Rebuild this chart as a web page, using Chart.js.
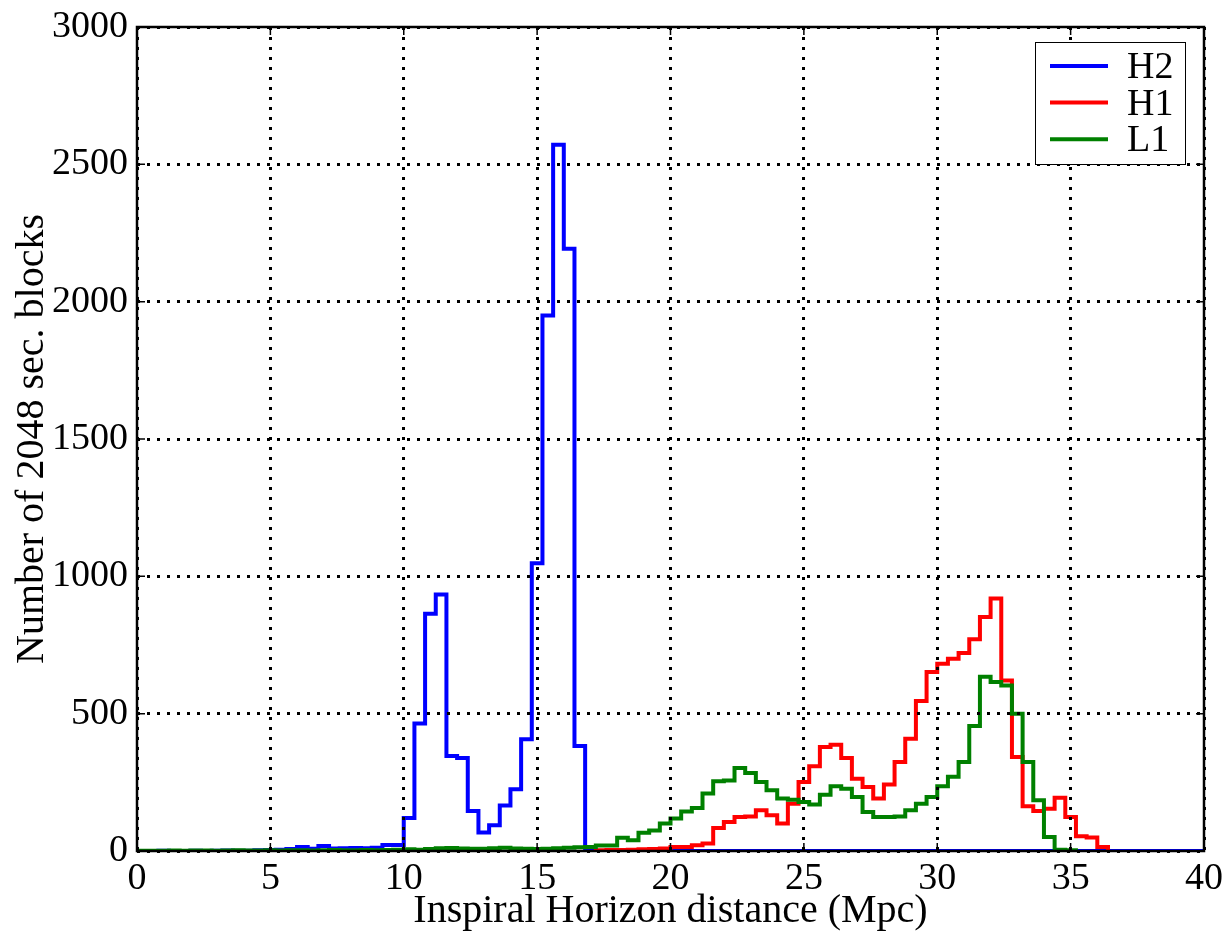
<!DOCTYPE html>
<html>
<head>
<meta charset="utf-8">
<script src="https://cdn.jsdelivr.net/npm/chart.js@4/dist/chart.umd.min.js"></script>
<style>
  html, body { margin: 0; padding: 0; background: #ffffff; }
  #wrap { width: 1227px; height: 937px; }
</style>
</head>
<body>
<div id="wrap"><canvas id="chart" width="1227" height="937"></canvas></div>
<script>
// Histogram bins are 0.4 Mpc wide; each series lists its counts from its first bin edge.
const binWidth = 0.4;

const h2Start = 0.0;
const h2Counts = [
  0, 0, 1, 0, 0, 1, 0, 1, 2, 1, 1, 3,
  4, 5, 7, 15, 8, 18, 9, 10, 11, 10, 12, 22, 22,
  120, 464, 864, 934, 346, 339, 146, 67, 94, 166, 225, 407,
  1048, 1950, 2571, 2193, 382, 2,
  0, 0, 0, 0, 0, 0, 0, 0, 0, 0, 0, 0, 0, 0, 0, 0, 0, 0, 0,
  0, 0, 0, 0, 0, 0, 0, 0, 0, 0, 0, 0, 0, 0, 0, 0, 0, 0, 0,
  0, 0, 0, 0, 0, 0, 0, 0, 0, 0, 0, 0, 0, 0, 0, 0, 0, 0, 0
];

const h1Start = 17.2;
const h1Counts = [
  3, 4, 4, 5, 6, 7, 9,
  15, 15, 21, 27, 84, 106, 124, 126, 148, 130,
  100, 172, 251, 309, 379, 387, 339, 263, 233, 191,
  242, 324, 409, 546, 652, 682, 700, 721, 771, 852,
  919, 621, 342, 163, 146, 154, 194, 124, 54, 49, 15
];

const l1Start = 0.0;
const l1Counts = [
  1, 1, 1, 2, 1, 2, 2, 1, 2, 3, 2, 2, 3, 2, 3, 3, 2, 3, 4, 3, 3, 4, 3, 4, 5,
  6, 5, 7, 10, 11, 9, 8, 8, 10, 12, 9, 8, 7, 8, 10, 12, 14, 15,
  20, 20, 48, 39, 66, 75, 100,
  118, 144, 157, 209, 254, 257, 302, 284, 251, 221,
  191, 187, 178, 169, 205, 236, 227, 197, 142, 124,
  124, 126, 148, 172, 197, 236, 270, 324, 455, 634,
  615, 603, 500, 324, 185, 51, 5, 3
];

const seriesNames = ['H2', 'H1', 'L1'];
const seriesColors = ['#0000ff', '#ff0000', '#008000'];

const xTicks = [0, 5, 10, 15, 20, 25, 30, 35, 40];
const yTicks = [0, 500, 1000, 1500, 2000, 2500, 3000];

const xTitle = 'Inspiral Horizon distance (Mpc)';
const yTitle = 'Number of 2048 sec. blocks';

// Turn bin counts into the outline of a step histogram:
// rise from zero at the first edge, one point per bin, close back to zero.
function stepOutline(start, counts) {
  const edge = i => Math.round((start + i * binWidth) * 1000) / 1000;
  const pts = [{ x: edge(0), y: 0 }];
  counts.forEach((c, i) => pts.push({ x: edge(i), y: c }));
  pts.push({ x: edge(counts.length), y: counts[counts.length - 1] });
  pts.push({ x: edge(counts.length), y: 0 });
  return pts;
}

const FONT = '"Liberation Serif", "Times New Roman", serif';

// Frame, inward tick marks and the boxed legend.
const framePlugin = {
  id: 'frameAndLegend',
  afterDraw(chart) {
    const ctx = chart.ctx;
    const a = chart.chartArea;
    const xs = chart.scales.x, ys = chart.scales.y;
    ctx.save();
    ctx.strokeStyle = '#000';
    ctx.lineWidth = 1.5;
    const tl = 8;
    ctx.beginPath();
    xTicks.forEach(v => {
      const px = xs.getPixelForValue(v);
      ctx.moveTo(px, a.bottom); ctx.lineTo(px, a.bottom - tl);
      ctx.moveTo(px, a.top); ctx.lineTo(px, a.top + tl);
    });
    yTicks.forEach(v => {
      const py = ys.getPixelForValue(v);
      ctx.moveTo(a.left, py); ctx.lineTo(a.left + tl, py);
      ctx.moveTo(a.right, py); ctx.lineTo(a.right - tl, py);
    });
    ctx.stroke();

    ctx.lineWidth = 2.5;
    ctx.strokeRect(a.left, a.top, a.right - a.left, a.bottom - a.top);

    // legend box
    const bx = a.right - 169, by = a.top + 15, bw = 150, bh = 122;
    ctx.fillStyle = '#fff';
    ctx.fillRect(bx, by, bw, bh);
    ctx.lineWidth = 1;
    ctx.strokeRect(bx + 0.5, by + 0.5, bw, bh);
    ctx.font = '38px ' + FONT;
    ctx.textBaseline = 'middle';
    ctx.textAlign = 'left';
    chart.data.datasets.forEach((ds, i) => {
      const yy = by + 24 + i * 36.6;
      ctx.strokeStyle = ds.borderColor;
      ctx.lineWidth = 4;
      ctx.beginPath();
      ctx.moveTo(bx + 15, yy); ctx.lineTo(bx + 73, yy);
      ctx.stroke();
      ctx.fillStyle = '#000';
      ctx.fillText(ds.label, bx + 92, yy + 2);
    });
    ctx.restore();
  }
};

const datasets = [
  { start: h2Start, counts: h2Counts },
  { start: h1Start, counts: h1Counts },
  { start: l1Start, counts: l1Counts }
].map((s, i) => ({
  label: seriesNames[i],
  data: stepOutline(s.start, s.counts),
  borderColor: seriesColors[i],
  backgroundColor: seriesColors[i],
  borderWidth: 4,
  stepped: 'before',
  pointRadius: 0,
  fill: false,
  tension: 0,
  borderJoinStyle: 'miter',
  order: 3 - i
}));

new Chart(document.getElementById('chart'), {
  type: 'line',
  data: { datasets },
  plugins: [framePlugin],
  options: {
    responsive: false,
    animation: false,
    devicePixelRatio: 1,
    layout: { padding: { top: 27, right: 23, left: 0, bottom: 0 } },
    plugins: { legend: { display: false }, tooltip: { enabled: false } },
    scales: {
      x: {
        type: 'linear',
        min: 0, max: 40,
        afterBuildTicks: s => { s.ticks = xTicks.map(v => ({ value: v })); },
        afterFit: s => { s.height = 86; s.paddingLeft = 0; s.paddingRight = 0; },
        ticks: {
          autoSkip: false, maxRotation: 0, padding: 5,
          color: '#000',
          font: { family: FONT, size: 38 },
          callback: v => String(v)
        },
        grid: { color: '#000', lineWidth: 3, drawTicks: false, z: 1 },
        border: { display: false, dash: [3, 7] },
        title: {
          display: true, text: xTitle, color: '#000',
          font: { family: FONT, size: 40 },
          padding: { top: 0, bottom: 2 }
        }
      },
      y: {
        type: 'linear',
        min: 0, max: 3000,
        afterBuildTicks: s => { s.ticks = yTicks.map(v => ({ value: v })); },
        afterFit: s => { s.width = 137; s.paddingTop = 0; s.paddingBottom = 0; },
        ticks: {
          padding: 9, color: '#000',
          font: { family: FONT, size: 38 },
          callback: v => String(v)
        },
        grid: { color: '#000', lineWidth: 3, drawTicks: false, z: 1 },
        border: { display: false, dash: [3, 7] },
        title: {
          display: true, text: yTitle, color: '#000',
          font: { family: FONT, size: 40 },
          padding: { top: 8, bottom: 0 }
        }
      }
    }
  }
});
</script>
</body>
</html>
